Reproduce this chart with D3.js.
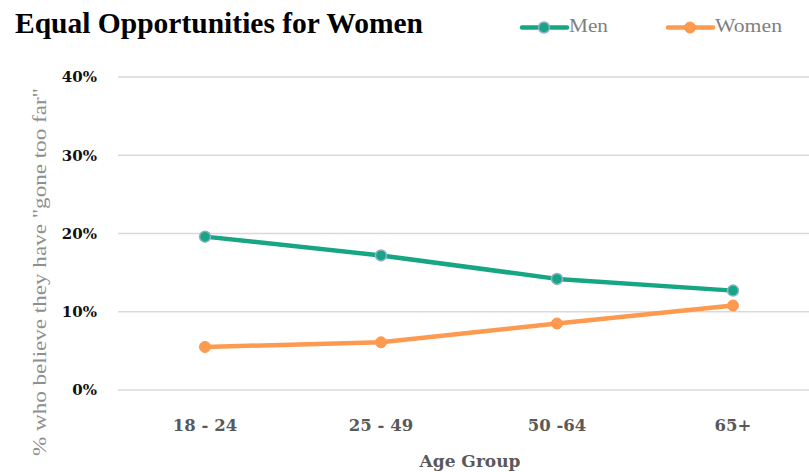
<!DOCTYPE html>
<html>
<head>
<meta charset="utf-8">
<script src="https://cdn.jsdelivr.net/npm/d3@7"></script>
<style>
  html, body { margin: 0; padding: 0; background: #fff; }
  svg { display: block; }
</style>
</head>
<body>
<svg id="chart" width="809" height="472"></svg>
<script>
const title = "Equal Opportunities for Women";
const categories = ["18 - 24", "25 - 49", "50 -64", "65+"];
const menValues = [19.6, 17.2, 14.2, 12.7];
const womenValues = [5.5, 6.1, 8.5, 10.8];
const yTicks = [0, 10, 20, 30, 40];
const seriesNames = ["Men", "Women"];
const xAxisTitle = "Age Group";
const yAxisTitle = "% who believe they have \"gone too far\"";

const svg = d3.select("#chart");
const W = 809, H = 472;

const x = d3.scalePoint().domain(categories).range([205, 733]);
const y = d3.scaleLinear().domain([0, 40]).range([390, 77]);

const colors = { Men: "#17a684", Women: "#fd9a4f" };
const series = [
  { name: "Men", values: menValues },
  { name: "Women", values: womenValues }
];

// gridlines
svg.append("g").selectAll("line").data(yTicks).join("line")
  .attr("x1", 118).attr("x2", W)
  .attr("y1", d => y(d)).attr("y2", d => y(d))
  .attr("stroke", "#d9d9d9").attr("stroke-width", 1.5);

// y tick labels
svg.append("g").selectAll("text").data(yTicks).join("text")
  .attr("x", 97).attr("y", d => y(d))
  .attr("dy", "0.35em")
  .attr("text-anchor", "end")
  .attr("font-family", "DejaVu Serif, Liberation Serif, serif")
  .attr("font-weight", "bold")
  .attr("font-size", 15)
  .attr("fill", "#111")
  .text(d => d + "%");

// x tick labels
svg.append("g").selectAll("text").data(categories).join("text")
  .attr("x", d => x(d)).attr("y", 431)
  .attr("text-anchor", "middle")
  .attr("font-family", "DejaVu Serif, Liberation Serif, serif")
  .attr("font-weight", "bold")
  .attr("font-size", 16.5)
  .attr("fill", "#595959")
  .text(d => d);

// x axis title
svg.append("text")
  .attr("x", 470).attr("y", 467)
  .attr("text-anchor", "middle")
  .attr("font-family", "DejaVu Serif, Liberation Serif, serif")
  .attr("font-weight", "bold")
  .attr("font-size", 17)
  .attr("fill", "#595959")
  .text(xAxisTitle);

// y axis title
svg.append("text")
  .attr("transform", "translate(46,272) rotate(-90)")
  .attr("text-anchor", "middle")
  .attr("font-family", "Liberation Serif, serif")
  .attr("font-size", 18)
  .attr("textLength", 368)
  .attr("lengthAdjust", "spacingAndGlyphs")
  .attr("fill", "#8f8f8f")
  .text(yAxisTitle);

// lines
const line = d3.line().x((d, i) => x(categories[i])).y(d => y(d));
series.forEach(s => {
  const g = svg.append("g");
  g.append("path").datum(s.values)
    .attr("d", line)
    .attr("fill", "none")
    .attr("stroke", colors[s.name])
    .attr("stroke-width", 4.5)
    .attr("stroke-linejoin", "round")
    .attr("stroke-linecap", "round");
  g.selectAll("circle").data(s.values).join("circle")
    .attr("cx", (d, i) => x(categories[i]))
    .attr("cy", d => y(d))
    .attr("r", 5.5)
    .attr("fill", colors[s.name])
    .attr("stroke", s.name === "Men" ? "#8fb0cc" : colors[s.name])
    .attr("stroke-width", s.name === "Men" ? 1.5 : 1);
});

// title
svg.append("text")
  .attr("x", 15).attr("y", 33)
  .attr("font-family", "Liberation Serif, serif")
  .attr("font-weight", "bold")
  .attr("font-size", 28.5)
  .attr("textLength", 408)
  .attr("lengthAdjust", "spacingAndGlyphs")
  .attr("fill", "#000")
  .text(title);

// legend
const legendPos = { Men: 522, Women: 668 };
const legendTextLen = { Men: 39, Women: 67 };
seriesNames.forEach(name => {
  const lx = legendPos[name];
  const g = svg.append("g");
  g.append("line")
    .attr("x1", lx).attr("x2", lx + 45)
    .attr("y1", 27.5).attr("y2", 27.5)
    .attr("stroke", colors[name]).attr("stroke-width", 4.5)
    .attr("stroke-linecap", "round");
  g.append("circle")
    .attr("cx", lx + 22).attr("cy", 27.5).attr("r", 5.5)
    .attr("fill", colors[name])
    .attr("stroke", name === "Men" ? "#8fb0cc" : colors[name])
    .attr("stroke-width", name === "Men" ? 1.5 : 1);
  g.append("text")
    .attr("x", lx + 47).attr("y", 32)
    .attr("font-family", "Liberation Serif, serif")
    .attr("font-size", 18)
    .attr("textLength", legendTextLen[name])
    .attr("lengthAdjust", "spacingAndGlyphs")
    .attr("fill", "#7f7f7f")
    .text(name);
});
</script>
</body>
</html>
